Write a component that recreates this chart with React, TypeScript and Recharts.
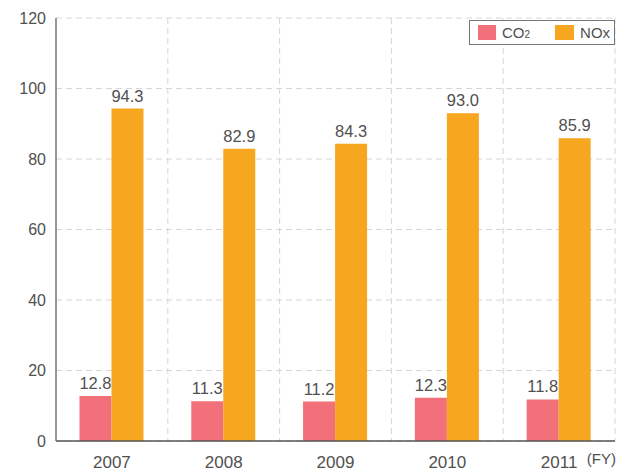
import { useLayoutEffect } from "react";
import { BarChart, Bar, XAxis, YAxis, CartesianGrid, LabelList } from "recharts";

const years = ["2007", "2008", "2009", "2010", "2011"];
const co2 = [12.8, 11.3, 11.2, 12.3, 11.8];
const nox = [94.3, 82.9, 84.3, 93.0, 85.9];
const yTicks = [0, 20, 40, 60, 80, 100, 120];

const data = years.map((year, i) => ({ year, co2: co2[i], nox: nox[i] }));

const CO2_COLOR = "#f1707a";
const NOX_COLOR = "#f6a61f";
const TEXT = "#505050";
const FONT = "'Liberation Sans', Arial, sans-serif";

const LegendBox = () => (
  <div
    style={{
      position: "absolute",
      left: 469,
      top: 20,
      width: 146,
      height: 25,
      display: "flex",
      alignItems: "center",
      border: "1px solid #777",
      background: "#fff",
      padding: "0 0 0 8px",
      fontFamily: FONT,
      fontSize: 15,
      color: TEXT,
      boxSizing: "border-box",
    }}
  >
    <span style={{ width: 18, height: 15, background: CO2_COLOR, display: "inline-block", marginRight: 6 }} />
    <span style={{ marginRight: 25 }}>
      CO<span style={{ fontSize: 10 }}>2</span>
    </span>
    <span style={{ width: 19, height: 15, background: NOX_COLOR, display: "inline-block", marginRight: 6 }} />
    <span>NOx</span>
  </div>
);

export default function App() {
  // use the whole window for the chart
  useLayoutEffect(() => {
    document.body.style.margin = "0";
  }, []);

  return (
    <div style={{ position: "relative", width: 617, height: 472 }}>
      <BarChart
        width={617}
        height={472}
        data={data}
        margin={{ top: 18, right: 2, bottom: 0, left: 8 }}
        barGap={0}
        barCategoryGap="21%"
        style={{ fontFamily: FONT }}
      >
        <CartesianGrid
          stroke="#d6d6d6"
          strokeDasharray="6 4"
          verticalCoordinatesGenerator={({ offset }: any) =>
            [1, 2, 3, 4, 5].map((i) => offset.left + (offset.width * i) / 5)
          }
        />
        <XAxis
          dataKey="year"
          tickLine={false}
          axisLine={{ stroke: "#555", strokeWidth: 1.5 }}
          tick={{ fill: TEXT, fontSize: 17 }}
          tickMargin={9}
          height={31}
          label={{
            content: ({ viewBox }: any) => (
              <text
                x={616}
                y={viewBox.y + 23}
                textAnchor="end"
                fill={TEXT}
                fontSize={15}
                fontFamily={FONT}
              >
                (FY)
              </text>
            ),
          }}
        />
        <YAxis
          domain={[0, 120]}
          ticks={yTicks}
          tickLine={false}
          axisLine={{ stroke: "#777", strokeWidth: 1.5 }}
          tick={{ fill: TEXT, fontSize: 16 }}
          tickMargin={4}
          width={48}
          interval={0}
        />
        <Bar dataKey="co2" name="CO₂" fill={CO2_COLOR} isAnimationActive={false}>
          <LabelList
            dataKey="co2"
            position="top"
            offset={7}
            fill={TEXT}
            fontSize={16.5}
            formatter={(v: any) => Number(v).toFixed(1)}
          />
        </Bar>
        <Bar dataKey="nox" name="NOx" fill={NOX_COLOR} isAnimationActive={false}>
          <LabelList
            dataKey="nox"
            position="top"
            offset={7}
            fill={TEXT}
            fontSize={16.5}
            formatter={(v: any) => Number(v).toFixed(1)}
          />
        </Bar>
      </BarChart>
      <LegendBox />
    </div>
  );
}
